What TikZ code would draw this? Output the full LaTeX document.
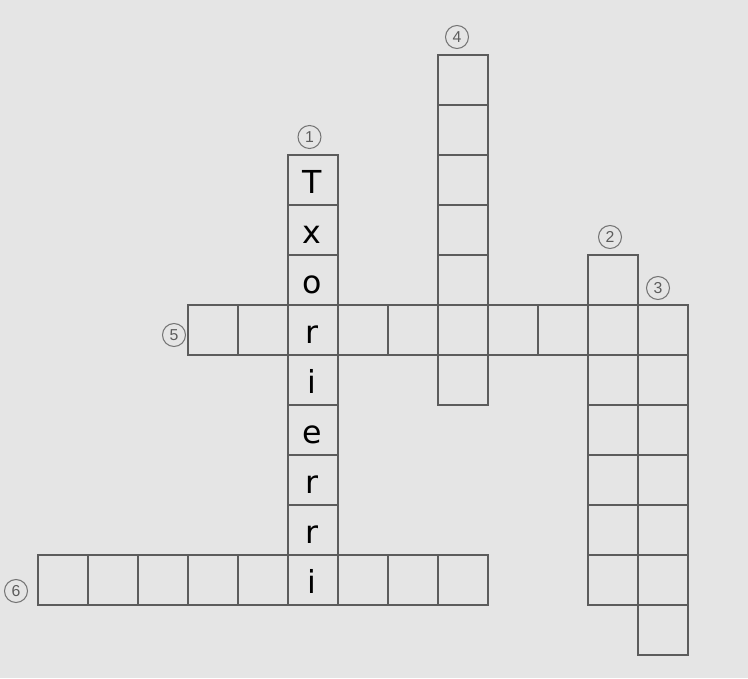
\documentclass[tikz,border=0pt]{standalone}
\usepackage{fontspec}
\setmainfont{DejaVu Sans}
\newfontfamily\cluefont{Liberation Sans}
\definecolor{paper}{HTML}{E5E5E5}
\definecolor{pencil}{HTML}{5C5C5C}
\tikzset{
  cell/.style={draw=pencil, line width=0.8pt},
  clue/.style={circle, draw=pencil!85, text=pencil, line width=0.6pt, inner sep=0pt, minimum size=0.46cm, font=\cluefont\small},
  letter/.style={anchor=base, font=\fontsize{18}{20}\selectfont}
}

\begin{document}
\begin{tikzpicture}
\fill[paper] (-0.76,-12.46) rectangle (14.2,1.1);
% down words
\foreach \r in {2,...,10} \draw[cell] (5,-\r) rectangle (6,-\r-1);
\foreach \r in {0,...,6} \draw[cell] (8,-\r) rectangle (9,-\r-1);
\foreach \r in {4,...,10} \draw[cell] (11,-\r) rectangle (12,-\r-1);
\foreach \r in {5,...,11} \draw[cell] (12,-\r) rectangle (13,-\r-1);
% across words
\foreach \c in {3,...,12} \draw[cell] (\c,-5) rectangle (\c+1,-6);
\foreach \c in {0,...,8} \draw[cell] (\c,-10) rectangle (\c+1,-11);
% letters of 1
\foreach \l [count=\i from 2] in {T,x,o,r,i,e,r,r,i}
  \node[letter] (l\i) at (5.48,-\i-0.76) {\l};
% clue numbers
\node[clue] (n1) at (5.43,-1.64) {1};
\node[clue] (n2) at (11.44,-3.64) {2};
\node[clue] (n3) at (12.4,-4.66) {3};
\node[clue] (n4) at (8.38,0.36) {4};
\node[clue] (n5) at (2.72,-5.6) {5};
\node[clue] (n6) at (-0.44,-10.72) {6};
\end{tikzpicture}
\end{document}
